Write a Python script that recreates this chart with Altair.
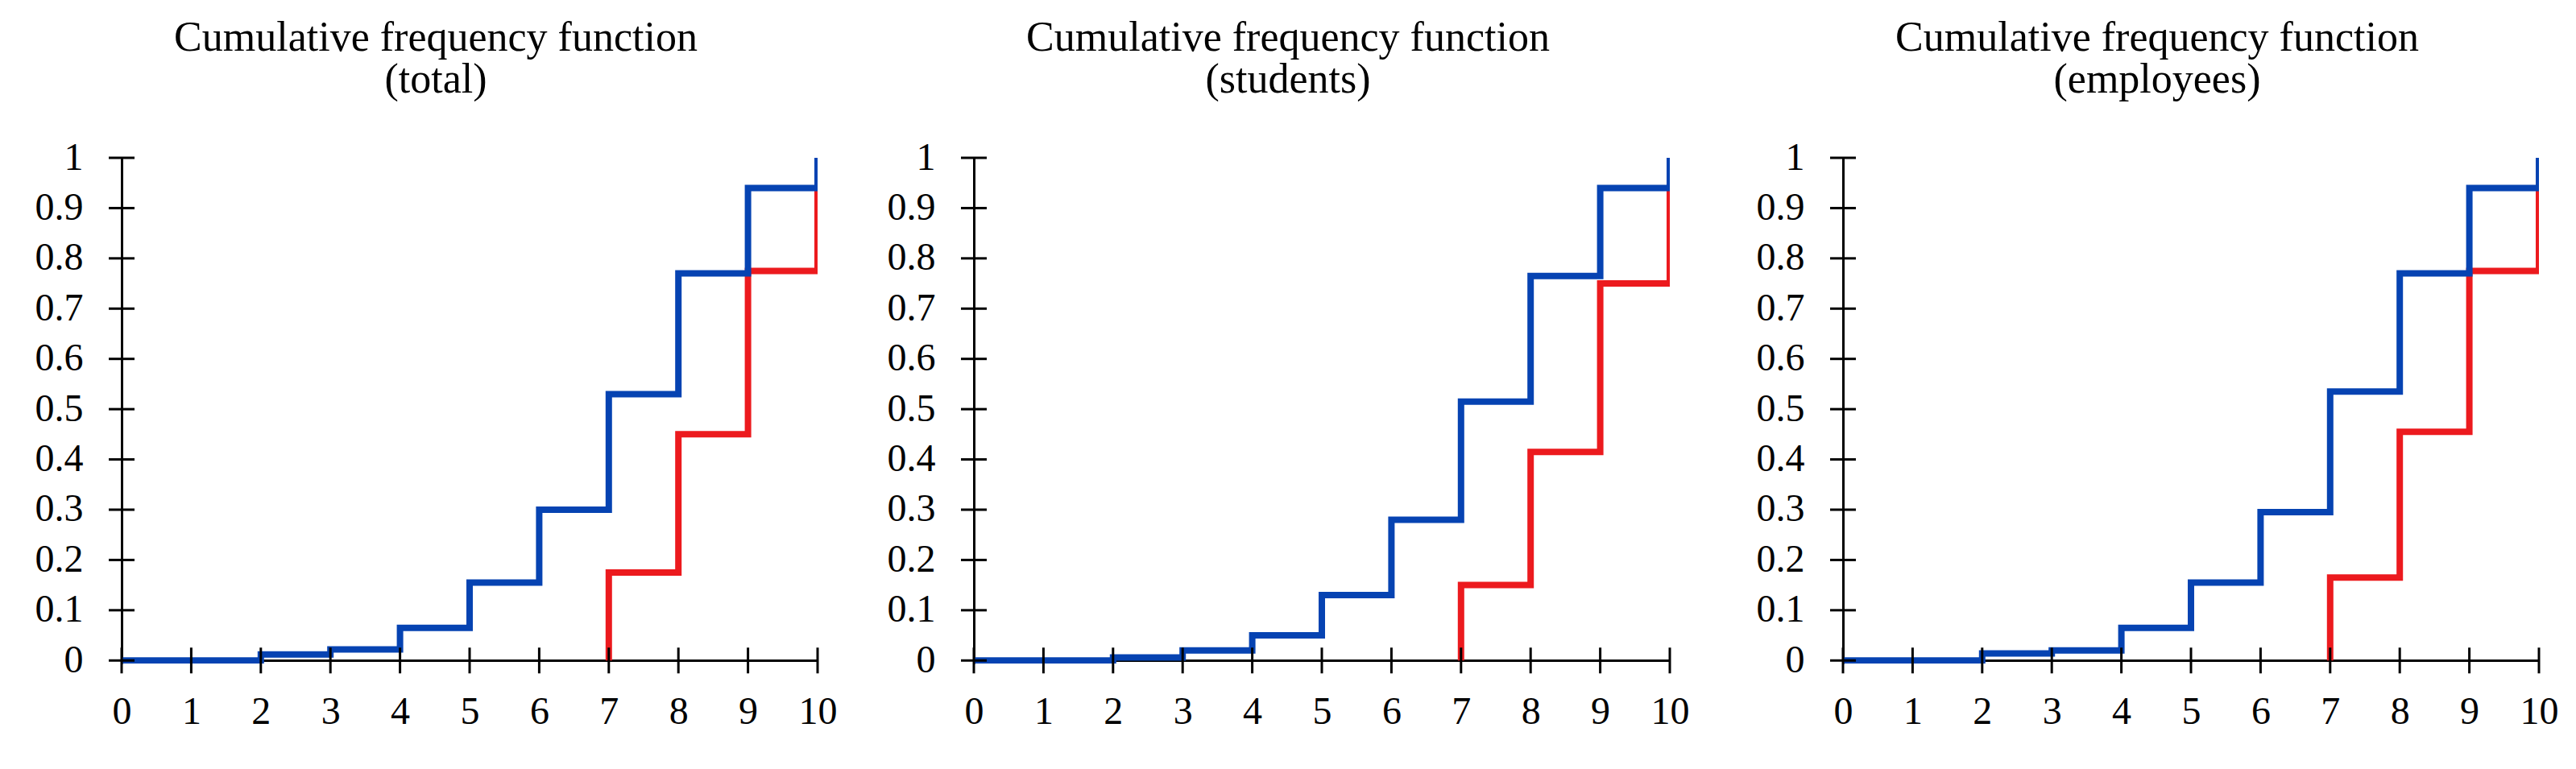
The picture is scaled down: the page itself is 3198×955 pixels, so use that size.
import altair as alt
import pandas as pd

# x positions of the steps (scores 0..10)
X_VALUES = [0, 1, 2, 3, 4, 5, 6, 7, 8, 9, 10]
Y_TICKS = [0, 0.1, 0.2, 0.3, 0.4, 0.5, 0.6, 0.7, 0.8, 0.9, 1.0]

# blue series (cumulative frequency, first curve)
TOTAL_BLUE = [0, 0, 0.012, 0.022, 0.065, 0.155, 0.30, 0.53, 0.77, 0.94, 1.0]
STUDENTS_BLUE = [0, 0, 0.006, 0.02, 0.05, 0.13, 0.28, 0.515, 0.765, 0.94, 1.0]
EMPLOYEES_BLUE = [0, 0, 0.014, 0.02, 0.065, 0.155, 0.295, 0.535, 0.77, 0.94, 1.0]

# red series (cumulative frequency, second curve) starting at x = 7
RED_X = [7, 7, 8, 9, 10]
TOTAL_RED = [0, 0.175, 0.45, 0.775, 1.0]
STUDENTS_RED = [0, 0.15, 0.415, 0.75, 1.0]
EMPLOYEES_RED = [0, 0.165, 0.455, 0.775, 1.0]

SUBTITLES = ["(total)", "(students)", "(employees)"]
MAIN_TITLE = "Cumulative frequency function"

BLUE = "#0643B2"
RED = "#EC1A1E"
FONT = "Liberation Serif"
W, H = 864, 628
TICK_LEN = 32
LINE_W = 8

X_AXIS = alt.Axis(orient="bottom", values=X_VALUES, format="d",
                  grid=False, domainColor="black", domainWidth=3,
                  ticks=False, labelFont=FONT, labelFontSize=48,
                  labelColor="black", labelPadding=40, zindex=0,
                  labelFlush=False, title=None, offset=-4)
Y_AXIS = alt.Axis(orient="left", values=Y_TICKS, format="~g",
                  grid=False, domainColor="black", domainWidth=3,
                  ticks=False, labelFont=FONT, labelFontSize=48,
                  labelColor="black", labelPadding=48, zindex=0,
                  labelFlush=False, title=None)


def panel(sub, blue, red):
    df_b = pd.DataFrame({"x": X_VALUES, "y": blue, "i": range(len(blue))})
    df_r = pd.DataFrame({"x": RED_X, "y": red, "i": range(len(red))})
    df_xt = pd.DataFrame({"x": X_VALUES})
    df_yt = pd.DataFrame({"y": Y_TICKS})
    xs = alt.Scale(domain=[0, 10], nice=False, zero=False)
    ys = alt.Scale(domain=[-0.006, 1], nice=False, zero=False)

    red_line = alt.Chart(df_r).mark_line(
        interpolate="step-after", color=RED, strokeWidth=LINE_W, clip=True
    ).encode(
        x=alt.X("x:Q", scale=xs, axis=X_AXIS),
        y=alt.Y("y:Q", scale=ys, axis=Y_AXIS),
        order=alt.Order("i:Q"),
    )

    blue_line = alt.Chart(df_b).mark_line(
        interpolate="step-after", color=BLUE, strokeWidth=LINE_W, clip=True
    ).encode(
        x=alt.X("x:Q", scale=xs, axis=X_AXIS),
        y=alt.Y("y:Q", scale=ys, axis=Y_AXIS),
        order=alt.Order("i:Q"),
    )

    x_ticks = alt.Chart(df_xt).mark_tick(
        orient="vertical", color="black", thickness=3, size=TICK_LEN,
        opacity=1
    ).encode(
        x=alt.X("x:Q", scale=xs, axis=X_AXIS),
        y=alt.datum(0),
    )

    y_ticks = alt.Chart(df_yt).mark_tick(
        orient="horizontal", color="black", thickness=3, size=TICK_LEN,
        opacity=1
    ).encode(
        y=alt.Y("y:Q", scale=ys, axis=Y_AXIS),
        x=alt.datum(0),
    )

    return alt.layer(red_line, blue_line, x_ticks, y_ticks).properties(
        width=W, height=H,
        title=alt.TitleParams(
            [MAIN_TITLE, sub], font=FONT, fontSize=52, fontWeight="normal",
            color="black", anchor="middle", frame="bounds", lineHeight=52,
            offset=46,
        ),
    )


p1 = panel(SUBTITLES[0], TOTAL_BLUE, TOTAL_RED)
p2 = panel(SUBTITLES[1], STUDENTS_BLUE, STUDENTS_RED)
p3 = panel(SUBTITLES[2], EMPLOYEES_BLUE, EMPLOYEES_RED)

chart = alt.hconcat(
    alt.hconcat(p1, p2, spacing=62), p3, spacing=83
).properties(
    padding={"left": 35, "top": 13, "right": 5, "bottom": 5}
).configure(background="white").configure_view(stroke=None)

chart.save("out.html", embed_options={"renderer": "svg", "actions": False})
